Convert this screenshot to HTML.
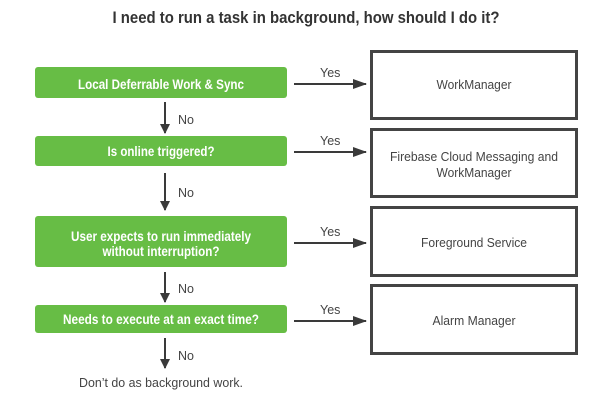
<!DOCTYPE html>
<html><head><meta charset="utf-8"><style>
html,body{margin:0;padding:0;background:#fff;width:610px;height:403px;overflow:hidden}
text{font-family:"Liberation Sans",sans-serif}
</style></head><body>
<svg width="610" height="403" viewBox="0 0 610 403" xmlns="http://www.w3.org/2000/svg">
<defs><marker id="a" markerWidth="10" markerHeight="10" refX="9" refY="5" orient="auto" markerUnits="userSpaceOnUse"><path d="M0,0 L10,5 L0,10 z" fill="#3a3a3a"/></marker>
<marker id="b" markerWidth="14" markerHeight="10" refX="13" refY="5" orient="auto" markerUnits="userSpaceOnUse"><path d="M0,0 L14,5 L0,10 z" fill="#3a3a3a"/></marker></defs>
<text x="306" y="23" text-anchor="middle" font-size="17" font-weight="bold" fill="#333" textLength="387" lengthAdjust="spacingAndGlyphs">I need to run a task in background, how should I do it?</text>
<g fill="#67bd45">
<rect x="35" y="67" width="252" height="31" rx="3"/>
<rect x="35" y="136" width="252" height="30" rx="3"/>
<rect x="35" y="216" width="252" height="51" rx="3"/>
<rect x="35" y="305" width="252" height="28" rx="3"/>
</g>
<g fill="#fff" font-size="14" font-weight="bold" text-anchor="middle">
<text x="161" y="89" textLength="166" lengthAdjust="spacingAndGlyphs">Local Deferrable Work &amp; Sync</text>
<text x="161" y="156" textLength="107" lengthAdjust="spacingAndGlyphs">Is online triggered?</text>
<text x="161" y="241" textLength="180" lengthAdjust="spacingAndGlyphs">User expects to run immediately</text>
<text x="161" y="256" textLength="117" lengthAdjust="spacingAndGlyphs">without interruption?</text>
<text x="161" y="324" textLength="196" lengthAdjust="spacingAndGlyphs">Needs to execute at an exact time?</text>
</g>
<g fill="none" stroke="#444" stroke-width="3">
<rect x="371.5" y="51.5" width="205" height="67"/>
<rect x="371.5" y="129.5" width="205" height="67"/>
<rect x="371.5" y="207.5" width="205" height="68"/>
<rect x="371.5" y="285.5" width="205" height="68"/>
</g>
<g fill="#444" font-size="13" text-anchor="middle">
<text x="474" y="89" textLength="75" lengthAdjust="spacingAndGlyphs">WorkManager</text>
<text x="474" y="161" textLength="168" lengthAdjust="spacingAndGlyphs">Firebase Cloud Messaging and</text>
<text x="474" y="177" textLength="75" lengthAdjust="spacingAndGlyphs">WorkManager</text>
<text x="474" y="247" textLength="106" lengthAdjust="spacingAndGlyphs">Foreground Service</text>
<text x="474" y="325" textLength="83" lengthAdjust="spacingAndGlyphs">Alarm Manager</text>
</g>
<g stroke="#3a3a3a" stroke-width="2">
<line x1="294" y1="84" x2="366" y2="84" marker-end="url(#b)"/>
<line x1="294" y1="152" x2="366" y2="152" marker-end="url(#b)"/>
<line x1="294" y1="243" x2="366" y2="243" marker-end="url(#b)"/>
<line x1="294" y1="321" x2="366" y2="321" marker-end="url(#b)"/>
<line x1="165" y1="102" x2="165" y2="133" marker-end="url(#a)"/>
<line x1="165" y1="173" x2="165" y2="210" marker-end="url(#a)"/>
<line x1="165" y1="272" x2="165" y2="302" marker-end="url(#a)"/>
<line x1="165" y1="338" x2="165" y2="368" marker-end="url(#a)"/>
</g>
<g fill="#444" font-size="12.5">
<text x="320" y="77">Yes</text>
<text x="320" y="145">Yes</text>
<text x="320" y="236">Yes</text>
<text x="320" y="314">Yes</text>
<text x="178" y="124">No</text>
<text x="178" y="197">No</text>
<text x="178" y="293">No</text>
<text x="178" y="360">No</text>
<text x="79" y="387" textLength="164" lengthAdjust="spacingAndGlyphs">Don’t do as background work.</text>
</g>
</svg>
</body></html>
